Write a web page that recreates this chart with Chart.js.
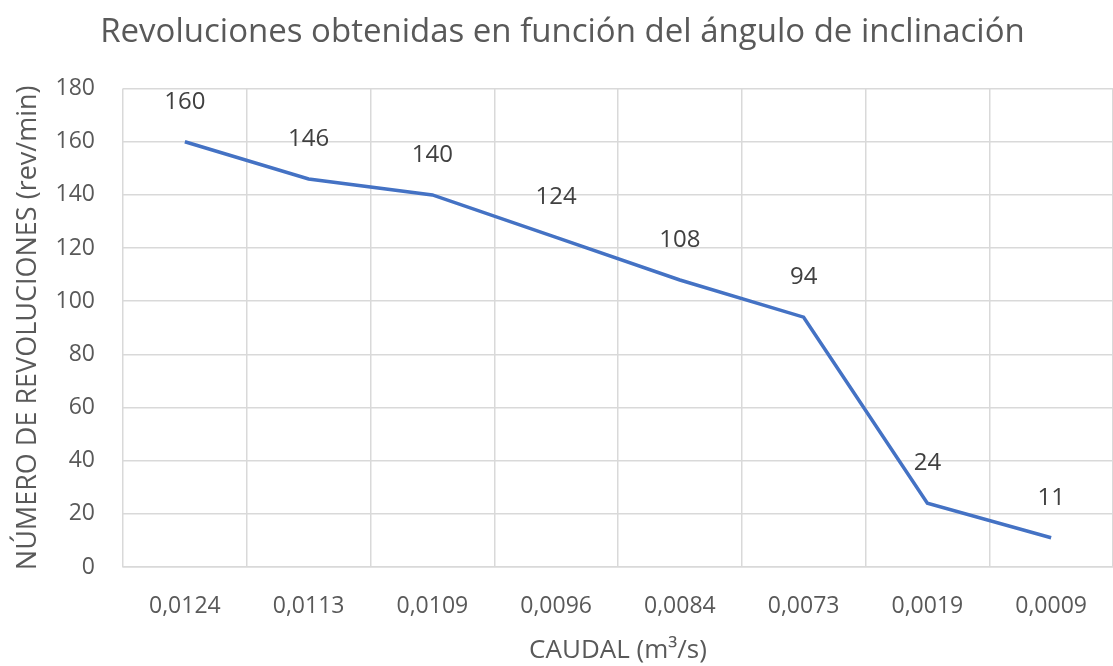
<!DOCTYPE html>
<html>
<head>
<meta charset="utf-8">
<script src="https://cdn.jsdelivr.net/npm/chart.js@4/dist/chart.umd.min.js"></script>
<style>
  html, body { margin: 0; padding: 0; background: #fff; }
  #wrap { width: 1113px; height: 666px; }
</style>
</head>
<body>
<div id="wrap"><canvas id="grafico"></canvas></div>
<script>
// caudal (m3/s) por cada ángulo de inclinación
var caudales = ['0,0124', '0,0113', '0,0109', '0,0096', '0,0084', '0,0073', '0,0019', '0,0009'];
// revoluciones medidas (rev/min)
var revoluciones = [160, 146, 140, 124, 108, 94, 24, 11];
var ticksY = [0, 20, 40, 60, 80, 100, 120, 140, 160, 180];

var gris = '#595959';
var rejilla = '#d9d9d9';
var fuente = "'Open Sans', 'Noto Sans', sans-serif";

// etiquetas de valor encima de cada punto
var etiquetas = {
    id: 'etiquetas',
    afterDatasetsDraw: function (chart) {
        var ctx = chart.ctx;
        var meta = chart.getDatasetMeta(0);
        ctx.save();
        ctx.font = '24px ' + fuente;
        ctx.fillStyle = '#404040';
        ctx.textAlign = 'center';
        ctx.textBaseline = 'middle';
        meta.data.forEach(function (p, i) {
            ctx.fillText(String(revoluciones[i]), p.x, p.y - 40);
        });
        ctx.restore();
    }
};

var ctx = document.getElementById('grafico').getContext('2d');
var myChart = new Chart(ctx, {
    type: 'line',
    data: {
        labels: caudales,
        datasets: [{
            label: 'Revoluciones',
            data: revoluciones,
            borderColor: '#4472C4',
            borderWidth: 3.5,
            pointRadius: 0,
            tension: 0,
            fill: false
        }]
    },
    options: {
        responsive: true,
        maintainAspectRatio: false,
        animation: false,
        layout: { padding: { top: 8, right: 0, left: 12, bottom: 0 } },
        plugins: {
            legend: { display: false },
            tooltip: { enabled: false },
            title: {
                display: true,
                text: 'Revoluciones obtenidas en función del ángulo de inclinación',
                color: gris,
                font: { family: fuente, size: 33, weight: 'normal' },
                padding: { top: 5, bottom: 36 }
            }
        },
        scales: {
            x: {
                offset: true,
                grid: { offset: true, color: rejilla, lineWidth: 1.5, drawTicks: false },
                border: { color: rejilla, width: 1.5 },
                ticks: { color: gris, font: { family: fuente, size: 23 }, padding: 26, maxRotation: 0 },
                afterFit: function (scale) {
                    scale.height = 99;
                },
                title: {
                    display: true,
                    text: 'CAUDAL (m³/s)',
                    color: gris,
                    font: { family: fuente, size: 26 },
                    padding: { top: 0, bottom: 0 }
                }
            },
            y: {
                min: 0,
                max: 180,
                afterBuildTicks: function (scale) {
                    scale.ticks = ticksY.map(function (v) { return { value: v }; });
                },
                afterFit: function (scale) {
                    scale.width = 111;
                },
                grid: { color: rejilla, lineWidth: 1.5, drawTicks: false },
                border: { display: false },
                ticks: { color: gris, font: { family: fuente, size: 23 }, padding: 28 },
                title: {
                    display: true,
                    text: 'NÚMERO DE REVOLUCIONES (rev/min)',
                    color: gris,
                    font: { family: fuente, size: 27 },
                    padding: { top: 0, bottom: 0 }
                }
            }
        }
    },
    plugins: [etiquetas]
});
</script>
</body>
</html>
